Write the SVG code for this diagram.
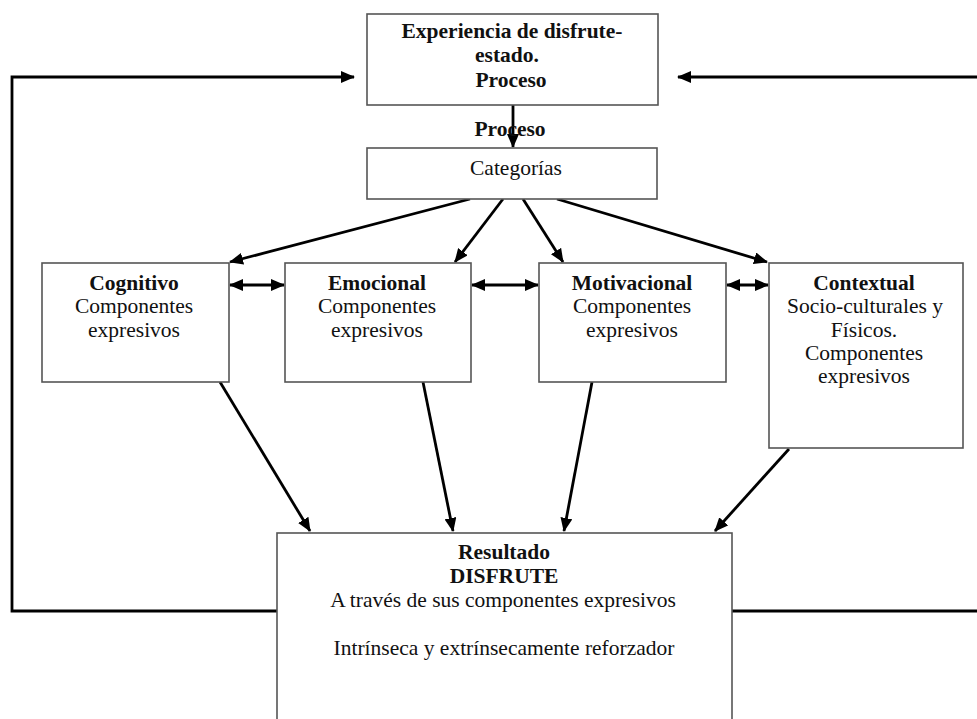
<svg xmlns="http://www.w3.org/2000/svg" width="977" height="719" viewBox="0 0 977 719">
<defs>
<marker id="ah" markerUnits="userSpaceOnUse" markerWidth="14" markerHeight="12" refX="13" refY="6" orient="auto-start-reverse">
<path d="M0,0 L14,6 L0,12 Z" fill="#000"/>
</marker>
<style>
.box{fill:#fff;stroke:#555;stroke-width:1.6}
.t{font-family:"Liberation Serif","Times New Roman",serif;font-size:21.5px;fill:#111;text-anchor:middle}
.b{font-weight:bold}
.c{fill:none;stroke:#000;stroke-width:2.8}
</style>
</defs>
<rect width="977" height="719" fill="#fff"/>
<g id="connectors">
<polyline class="c" points="277,611 12,611 12,77 354,77" marker-end="url(#ah)"/>
<line class="c" x1="732" y1="611" x2="977" y2="611"/>
<line class="c" x1="977" y1="77" x2="678" y2="77" marker-end="url(#ah)"/>
<line class="c" x1="513" y1="105" x2="513" y2="147" marker-end="url(#ah)"/>
<line class="c" x1="470" y1="199" x2="230" y2="262" marker-end="url(#ah)"/>
<line class="c" x1="503" y1="199" x2="455" y2="262" marker-end="url(#ah)"/>
<line class="c" x1="523" y1="199" x2="563" y2="262" marker-end="url(#ah)"/>
<line class="c" x1="557" y1="199" x2="767" y2="262" marker-end="url(#ah)"/>
<line class="c" x1="230" y1="285" x2="284" y2="285" marker-start="url(#ah)" marker-end="url(#ah)"/>
<line class="c" x1="472" y1="285" x2="538" y2="285" marker-start="url(#ah)" marker-end="url(#ah)"/>
<line class="c" x1="727" y1="285" x2="768" y2="285" marker-start="url(#ah)" marker-end="url(#ah)"/>
<line class="c" x1="220" y1="382" x2="310" y2="531" marker-end="url(#ah)"/>
<line class="c" x1="423" y1="382" x2="453" y2="531" marker-end="url(#ah)"/>
<line class="c" x1="592" y1="382" x2="564" y2="531" marker-end="url(#ah)"/>
<line class="c" x1="789" y1="449" x2="715" y2="531" marker-end="url(#ah)"/>
<text class="t b" x="510" y="136">Proceso</text>
</g>
<g id="experiencia">
<rect class="box" x="367" y="14" width="291" height="91"/>
<text class="t b" x="512" y="38" textLength="221" lengthAdjust="spacingAndGlyphs">Experiencia de disfrute-</text>
<text class="t b" x="507" y="62">estado.</text>
<text class="t b" x="511" y="87">Proceso</text>
</g>
<g id="categorias">
<rect class="box" x="367" y="148" width="290" height="51"/>
<text class="t" x="516" y="175" font-size="19.5">Categorías</text>
</g>
<g id="cognitivo">
<rect class="box" x="42" y="263" width="187" height="119"/>
<text class="t b" x="134" y="290">Cognitivo</text>
<text class="t" x="134" y="313">Componentes</text>
<text class="t" x="134" y="337">expresivos</text>
</g>
<g id="emocional">
<rect class="box" x="285" y="263" width="186" height="119"/>
<text class="t b" x="377" y="290">Emocional</text>
<text class="t" x="377" y="313">Componentes</text>
<text class="t" x="377" y="337">expresivos</text>
</g>
<g id="motivacional">
<rect class="box" x="539" y="263" width="187" height="119"/>
<text class="t b" x="632" y="290">Motivacional</text>
<text class="t" x="632" y="313">Componentes</text>
<text class="t" x="632" y="337">expresivos</text>
</g>
<g id="contextual">
<rect class="box" x="769" y="263" width="194" height="185"/>
<text class="t b" x="864" y="290">Contextual</text>
<text class="t" x="865" y="313">Socio-culturales y</text>
<text class="t" x="864" y="337">Físicos.</text>
<text class="t" x="864" y="360">Componentes</text>
<text class="t" x="864" y="383">expresivos</text>
</g>
<g id="resultado">
<rect class="box" x="277" y="533" width="455" height="200"/>
<text class="t b" x="504" y="559">Resultado</text>
<text class="t b" x="504" y="583">DISFRUTE</text>
<text class="t" x="503" y="607">A través de sus componentes expresivos</text>
<text class="t" x="504" y="655">Intrínseca y extrínsecamente reforzador</text>
</g>
</svg>
